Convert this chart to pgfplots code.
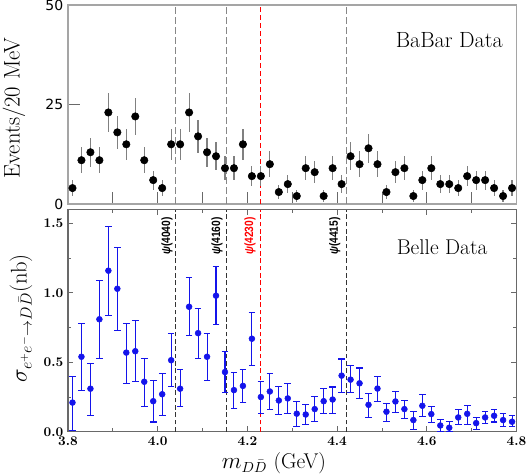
\documentclass[border=0pt]{standalone}
\usepackage{fontspec}
\usepackage{graphicx}
\usepackage{pgfplots}
\usepackage{pgfplotstable}
\pgfplotsset{compat=1.18}
\newfontfamily\dejavu{DejaVu Sans}
\newfontfamily\libsans{Liberation Sans}

\definecolor{belleblue}{RGB}{20,20,235}
\definecolor{framegray}{RGB}{105,105,105}
\definecolor{lightframe}{RGB}{165,165,165}
\definecolor{dashgray}{RGB}{135,135,135}

% BaBar: bin centre, events, error
\pgfplotstableread{
m n e
3.81 4 2.0
3.83 11 3.3
3.85 13 3.6
3.87 11 3.3
3.89 23 4.8
3.91 18 4.2
3.93 15 3.9
3.95 22 4.7
3.97 11 3.3
3.99 6 2.4
4.01 4 2.0
4.03 15 3.9
4.05 15 3.9
4.07 23 4.8
4.09 17 4.1
4.11 13 3.6
4.13 12 3.5
4.15 9 3.0
4.17 9 3.0
4.19 15 3.9
4.21 7 2.6
4.23 7 2.6
4.25 10 3.2
4.27 3 1.7
4.29 5 2.2
4.31 2 1.4
4.33 9 3.0
4.35 8 2.8
4.37 2 1.4
4.39 9 3.0
4.41 5 2.2
4.43 12 3.5
4.45 10 3.2
4.47 14 3.7
4.49 10 3.2
4.51 3 1.7
4.53 8 2.8
4.55 9 3.0
4.57 2 1.4
4.59 6 2.4
4.61 9 3.0
4.63 5 2.2
4.65 5 2.2
4.67 4 2.0
4.69 7 2.6
4.71 6 2.4
4.73 6 2.4
4.75 4 2.0
4.77 2 1.4
4.79 4 2.0
}\babar

% Belle: bin centre, cross section (nb), errors
\pgfplotstableread{
m s ep em
3.81 0.21 0.19 0.20
3.83 0.54 0.24 0.24
3.85 0.31 0.18 0.19
3.87 0.81 0.28 0.28
3.89 1.16 0.32 0.32
3.91 1.03 0.30 0.30
3.93 0.57 0.21 0.22
3.95 0.58 0.22 0.22
3.97 0.36 0.17 0.18
3.99 0.22 0.15 0.15
4.01 0.27 0.15 0.15
4.03 0.515 0.19 0.19
4.05 0.31 0.14 0.13
4.07 0.90 0.21 0.21
4.09 0.71 0.18 0.18
4.11 0.54 0.17 0.17
4.13 0.98 0.21 0.21
4.15 0.43 0.15 0.15
4.17 0.30 0.13 0.13
4.19 0.33 0.12 0.12
4.21 0.67 0.19 0.19
4.23 0.25 0.11 0.12
4.25 0.29 0.13 0.13
4.27 0.225 0.10 0.10
4.29 0.24 0.11 0.11
4.31 0.13 0.09 0.09
4.33 0.124 0.07 0.07
4.35 0.163 0.09 0.09
4.37 0.22 0.09 0.09
4.39 0.232 0.09 0.10
4.41 0.404 0.12 0.12
4.43 0.375 0.10 0.09
4.45 0.349 0.11 0.11
4.47 0.194 0.08 0.09
4.49 0.311 0.09 0.09
4.51 0.144 0.06 0.07
4.53 0.218 0.07 0.08
4.55 0.163 0.06 0.07
4.57 0.084 0.06 0.07
4.59 0.187 0.08 0.08
4.61 0.127 0.055 0.06
4.63 0.045 0.04 0.045
4.65 0.029 0.045 0.029
4.67 0.103 0.055 0.053
4.69 0.129 0.06 0.074
4.71 0.062 0.04 0.043
4.73 0.103 0.043 0.043
4.75 0.115 0.045 0.045
4.77 0.084 0.047 0.048
4.79 0.072 0.043 0.036
}\belle

\begin{document}
\begin{tikzpicture}
% lower panel: Belle
\begin{axis}[
  name=lower, at={(0,0)}, anchor=south west,
  scale only axis, width=336.4pt, height=166.6pt,
  xmin=3.8, xmax=4.8, ymin=0, ymax=1.6,
  clip=false,
  axis line style={framegray, line width=1.1pt},
  tick style={framegray, line width=0.7pt},
  major tick length=4pt, minor tick length=2.5pt,
  xtick={3.8,4.0,4.2,4.4,4.6,4.8},
  xticklabels={\textbf{3.8},\textbf{4.0},\textbf{4.2},\textbf{4.4},\textbf{4.6},\textbf{4.8}},
  minor xtick={3.9,4.1,4.3,4.5,4.7},
  ytick={0,0.5,1,1.5},
  yticklabels={\textbf{0.0},\textbf{0.5},\textbf{1.0},\textbf{1.5}},
  minor ytick={0.25,0.75,1.25},
  tick label style={font=\fontsize{10}{11}\selectfont},
]
\draw[black!80, line width=0.6pt, dash pattern=on 3.5pt off 2pt] (axis cs:4.039,0) -- (axis cs:4.039,1.6);
\draw[black!80, line width=0.6pt, dash pattern=on 3.5pt off 2pt] (axis cs:4.153,0) -- (axis cs:4.153,1.6);
\draw[black!80, line width=0.6pt, dash pattern=on 3.5pt off 2pt] (axis cs:4.421,0) -- (axis cs:4.421,1.6);
\draw[red, line width=0.6pt, dash pattern=on 3.5pt off 2pt] (axis cs:4.23,0) -- (axis cs:4.23,1.6);

\addplot[only marks, mark=*, mark size=2.2pt, belleblue,
  error bars/.cd, y dir=both, y explicit, error mark=|,
  error bar style={belleblue, line width=0.8pt},
  error mark options={belleblue, mark size=2.5pt, line width=0.8pt}]
  table[x=m, y=s, y error plus=ep, y error minus=em] {\belle};

\node[rotate=90, font=\libsans\bfseries\fontsize{9}{10}\selectfont] at (axis cs:4.021,1.41) {\scalebox{0.85}[1]{\textit{ψ}(4040)}};
\node[rotate=90, font=\libsans\bfseries\fontsize{9}{10}\selectfont] at (axis cs:4.132,1.41) {\scalebox{0.85}[1]{\textit{ψ}(4160)}};
\node[rotate=90, red, font=\libsans\bfseries\fontsize{9}{10}\selectfont] at (axis cs:4.206,1.41) {\scalebox{0.85}[1]{\textit{ψ}(4230)}};
\node[rotate=90, font=\libsans\bfseries\fontsize{9}{10}\selectfont] at (axis cs:4.395,1.41) {\scalebox{0.85}[1]{\textit{ψ}(4415)}};

\node[font=\fontsize{16}{18}\selectfont] at (axis cs:4.634,1.33) {Belle Data};
\node[anchor=base, font=\fontsize{16}{18}\selectfont] at (rel axis cs:0.459,-0.165) {$m_{D\bar{D}}$ (GeV)};
\node[rotate=90, font=\fontsize{17}{19}\selectfont] at (rel axis cs:-0.105,0.51) {$\sigma_{e^+e^-\to D\bar{D}}$(nb)};
\end{axis}

% upper panel: BaBar
\begin{axis}[
  at={(0,170.8pt)}, anchor=south west,
  scale only axis, width=336.4pt, height=149.25pt,
  xmin=3.8, xmax=4.8, ymin=0, ymax=50,
  clip=false,
  axis line style={lightframe, line width=0.8pt},
  tick style={framegray, line width=0.6pt},
  major tick length=9pt,
  xtick={3.9,4.0,4.1,4.2,4.3,4.4,4.5,4.6,4.7},
  xticklabels={},
  xtick pos=left,
  ytick={0,25,50}, yticklabels={0,25,50},
  ytick pos=left,
  yticklabel style={font=\dejavu\fontsize{10.5}{12}\selectfont},
]
\draw[dashgray, line width=0.9pt, dash pattern=on 5pt off 2.5pt] (axis cs:4.039,0) -- (axis cs:4.039,50);
\draw[dashgray, line width=0.9pt, dash pattern=on 5pt off 2.5pt] (axis cs:4.153,0) -- (axis cs:4.153,50);
\draw[dashgray, line width=0.9pt, dash pattern=on 5pt off 2.5pt] (axis cs:4.421,0) -- (axis cs:4.421,50);
\draw[red, line width=0.7pt, dash pattern=on 4pt off 2pt] (axis cs:4.23,0) -- (axis cs:4.23,50);

\addplot[only marks, mark=*, mark size=2.8pt, black,
  error bars/.cd, y dir=both, y explicit, error mark=none,
  error bar style={gray, line width=0.9pt}]
  table[x=m, y=n, y error=e] {\babar};

\node[font=\fontsize{16.5}{18}\selectfont] at (axis cs:4.65,41.2) {BaBar Data};
\node[rotate=90, font=\fontsize{17}{19}\selectfont] at (rel axis cs:-0.1204,0.482) {Events/20 MeV};
\end{axis}

\pgfresetboundingbox
\path[use as bounding box] (-51pt,-32.5pt) rectangle (345.75pt,323.8pt);
\end{tikzpicture}
\end{document}
